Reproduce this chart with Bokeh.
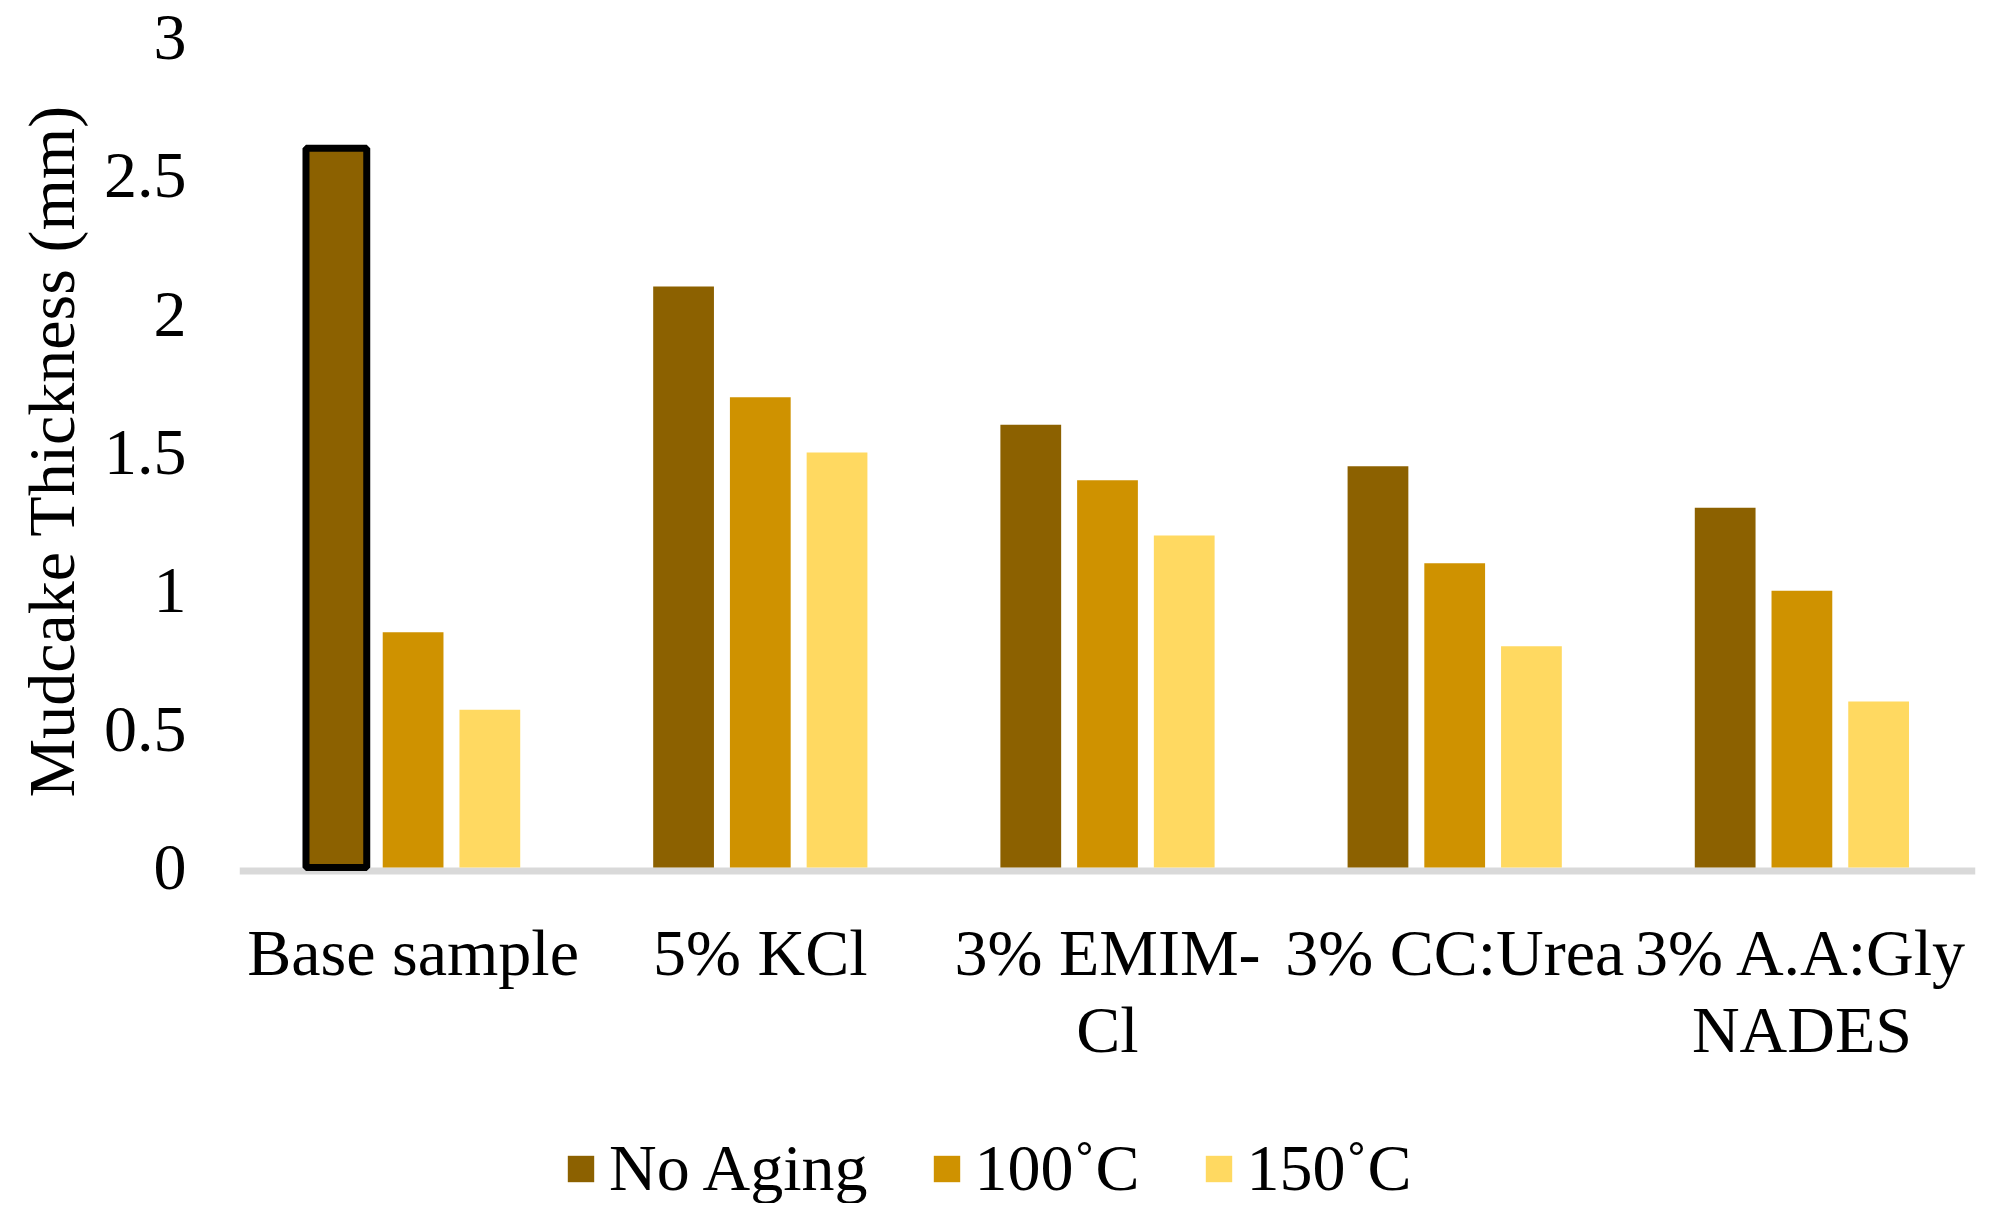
from bokeh.plotting import figure
from bokeh.models import (FactorRange, Range1d, FixedTicker, Legend, LegendItem,
                          ColumnDataSource, Span, Title)
from bokeh.transform import dodge
from bokeh.embed import file_html
from bokeh.resources import INLINE

# ---- data ----
categories = ["Base sample", "5% KCl", "3% EMIM-Cl", "3% CC:Urea", "3% A.A:Gly NADES"]
label_line1 = ["Base sample", "5% KCl", "3% EMIM-", "3% CC:Urea", "3% A.A:Gly"]
label_line2 = ["", "", "Cl", "", "NADES"]
series_names = ["No Aging", "100˚C", "150˚C"]
no_aging = [2.6, 2.1, 1.6, 1.45, 1.3]
aged_100 = [0.85, 1.7, 1.4, 1.1, 1.0]
aged_150 = [0.57, 1.5, 1.2, 0.8, 0.6]
y_ticks = [0, 0.5, 1, 1.5, 2, 2.5, 3]
y_tick_labels = ["0", "0.5", "1", "1.5", "2", "2.5", "3"]
y_title = "Mudcake Thickness (mm)"

# ---- layout / styles ----
colors = ["#8C6100", "#CF9200", "#FFD961"]
FONT = "Liberation Serif"
FS = "66px"
W, H = 1977, 1203
TOP = 37          # pixel row of y = 3
ZERO = 867        # pixel row of y = 0
LEFT = 234
YMAX = 3.0
ppu = (ZERO - TOP) / YMAX
y_start = -(H - ZERO) / ppu
LINE_W = 7

p = figure(x_range=FactorRange(*categories), y_range=Range1d(y_start, YMAX),
           width=W, height=H, output_backend="svg", toolbar_location=None,
           x_axis_location=None,
           min_border_left=LEFT, min_border_right=2, min_border_top=TOP,
           min_border_bottom=0)
p.outline_line_color = None
p.xgrid.grid_line_color = None
p.ygrid.grid_line_color = None
p.background_fill_color = "white"
p.border_fill_color = "white"

# baseline (category axis line)
p.add_layout(Span(location=-(LINE_W / 2) / ppu, dimension="width",
                  line_color="#D9D9D9", line_width=LINE_W, level="underlay"))

src = ColumnDataSource(dict(cat=categories, s0=no_aging, s1=aged_100, s2=aged_150,
                            l1=label_line1, l2=label_line2))
offsets = [-0.221, 0.0, 0.221]
BW = 0.175
renderers = []
for i, col in enumerate(["s0", "s1", "s2"]):
    r = p.vbar(x=dodge("cat", offsets[i], range=p.x_range), top=col, width=BW,
               source=src, fill_color=colors[i], line_color=None)
    renderers.append(r)

# outlined first bar (Base sample, No Aging)
hl = ColumnDataSource(dict(cat=categories[:1], top=no_aging[:1]))
p.vbar(x=dodge("cat", offsets[0], range=p.x_range), top="top", width=BW, source=hl,
       fill_color=None, line_color="black", line_width=7)

# category labels (two lines)
for col, base_px in (("l1", 952), ("l2", 1029)):
    p.text(x="cat", y=-(base_px - ZERO) / ppu, text=col, source=src,
           text_align="center", text_baseline="alphabetic",
           text_font=FONT, text_font_size=FS, text_color="black")

# y axis
ya = p.yaxis[0]
ya.ticker = FixedTicker(ticks=y_ticks)
ya.major_label_overrides = dict(zip(y_ticks, y_tick_labels))
ya.axis_line_color = None
ya.major_tick_line_color = None
ya.minor_tick_line_color = None
ya.major_tick_out = 0
ya.major_label_text_font = FONT
ya.major_label_text_font_size = FS
ya.major_label_text_color = "black"
ya.major_label_standoff = 53

title = Title(text=y_title, align="left", offset=406, standoff=25,
              text_font=FONT, text_font_size=FS, text_font_style="normal",
              text_color="black")
p.add_layout(title, "left")

legend = Legend(items=[LegendItem(label=series_names[i], renderers=[renderers[i]]) for i in range(3)],
                orientation="horizontal", location=(325, -3), padding=0, margin=0,
                spacing=62, label_standoff=12, glyph_width=33, glyph_height=33,
                label_text_font=FONT, label_text_font_size=FS, label_text_color="black",
                label_text_line_height=1.0,
                border_line_color=None, background_fill_alpha=0)
p.add_layout(legend)

open("out.html", "w").write(file_html(p, INLINE))
